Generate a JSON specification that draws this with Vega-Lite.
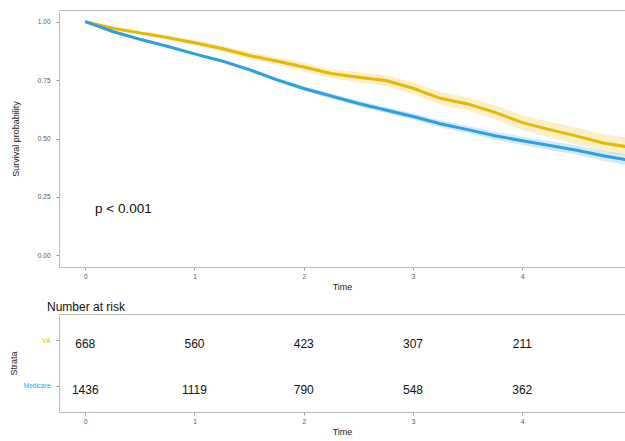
{
  "$schema": "https://vega.github.io/schema/vega-lite/v6.json",
  "padding": {"left": 9, "top": 10, "right": 0, "bottom": 0},
  "background": "white",
  "config": {
    "view": {"stroke": null},
    "font": "Liberation Sans",
    "axis": {
      "grid": false,
      "domainColor": "#c4bcbc",
      "domainWidth": 1,
      "tickColor": "#999999",
      "tickSize": 3,
      "labelColor": "#555555",
      "labelFontSize": 6.5,
      "titleFontSize": 9,
      "titleFontWeight": "normal",
      "titleColor": "#222222",
      "labelFont": "Liberation Sans",
      "titleFont": "Liberation Sans"
    },
    "axisX": {"labelPadding": 3},
    "axisY": {"labelPadding": 6}
  },
  "datasets": {
    "surv": [
      {"time": 0, "group": "VA", "surv": 1.0, "lo": 0.996, "hi": 1.0},
      {"time": 0.25, "group": "VA", "surv": 0.972, "lo": 0.966, "hi": 0.978},
      {"time": 0.5, "group": "VA", "surv": 0.952, "lo": 0.945, "hi": 0.96},
      {"time": 0.75, "group": "VA", "surv": 0.932, "lo": 0.923, "hi": 0.941},
      {"time": 1.0, "group": "VA", "surv": 0.91, "lo": 0.899, "hi": 0.921},
      {"time": 1.25, "group": "VA", "surv": 0.885, "lo": 0.872, "hi": 0.898},
      {"time": 1.5, "group": "VA", "surv": 0.855, "lo": 0.841, "hi": 0.87},
      {"time": 1.75, "group": "VA", "surv": 0.832, "lo": 0.816, "hi": 0.848},
      {"time": 2.0, "group": "VA", "surv": 0.806, "lo": 0.788, "hi": 0.824},
      {"time": 2.25, "group": "VA", "surv": 0.778, "lo": 0.758, "hi": 0.798},
      {"time": 2.5, "group": "VA", "surv": 0.762, "lo": 0.741, "hi": 0.784},
      {"time": 2.75, "group": "VA", "surv": 0.748, "lo": 0.725, "hi": 0.771},
      {"time": 3.0, "group": "VA", "surv": 0.715, "lo": 0.69, "hi": 0.74},
      {"time": 3.25, "group": "VA", "surv": 0.672, "lo": 0.645, "hi": 0.699},
      {"time": 3.5, "group": "VA", "surv": 0.648, "lo": 0.62, "hi": 0.677},
      {"time": 3.75, "group": "VA", "surv": 0.612, "lo": 0.582, "hi": 0.642},
      {"time": 4.0, "group": "VA", "surv": 0.568, "lo": 0.536, "hi": 0.6},
      {"time": 4.25, "group": "VA", "surv": 0.538, "lo": 0.504, "hi": 0.572},
      {"time": 4.5, "group": "VA", "surv": 0.51, "lo": 0.475, "hi": 0.546},
      {"time": 4.75, "group": "VA", "surv": 0.48, "lo": 0.443, "hi": 0.517},
      {"time": 5.0, "group": "VA", "surv": 0.462, "lo": 0.423, "hi": 0.501},
      {"time": 0, "group": "Medicare", "surv": 1.0, "lo": 0.998, "hi": 1.0},
      {"time": 0.25, "group": "Medicare", "surv": 0.958, "lo": 0.955, "hi": 0.961},
      {"time": 0.5, "group": "Medicare", "surv": 0.925, "lo": 0.921, "hi": 0.929},
      {"time": 0.75, "group": "Medicare", "surv": 0.895, "lo": 0.89, "hi": 0.9},
      {"time": 1.0, "group": "Medicare", "surv": 0.862, "lo": 0.856, "hi": 0.868},
      {"time": 1.25, "group": "Medicare", "surv": 0.832, "lo": 0.825, "hi": 0.839},
      {"time": 1.5, "group": "Medicare", "surv": 0.795, "lo": 0.787, "hi": 0.803},
      {"time": 1.75, "group": "Medicare", "surv": 0.752, "lo": 0.743, "hi": 0.761},
      {"time": 2.0, "group": "Medicare", "surv": 0.714, "lo": 0.704, "hi": 0.724},
      {"time": 2.25, "group": "Medicare", "surv": 0.682, "lo": 0.671, "hi": 0.693},
      {"time": 2.5, "group": "Medicare", "surv": 0.65, "lo": 0.638, "hi": 0.662},
      {"time": 2.75, "group": "Medicare", "surv": 0.622, "lo": 0.609, "hi": 0.635},
      {"time": 3.0, "group": "Medicare", "surv": 0.594, "lo": 0.58, "hi": 0.608},
      {"time": 3.25, "group": "Medicare", "surv": 0.563, "lo": 0.548, "hi": 0.578},
      {"time": 3.5, "group": "Medicare", "surv": 0.538, "lo": 0.522, "hi": 0.554},
      {"time": 3.75, "group": "Medicare", "surv": 0.512, "lo": 0.495, "hi": 0.529},
      {"time": 4.0, "group": "Medicare", "surv": 0.49, "lo": 0.472, "hi": 0.508},
      {"time": 4.25, "group": "Medicare", "surv": 0.47, "lo": 0.451, "hi": 0.489},
      {"time": 4.5, "group": "Medicare", "surv": 0.45, "lo": 0.43, "hi": 0.47},
      {"time": 4.75, "group": "Medicare", "surv": 0.425, "lo": 0.404, "hi": 0.446},
      {"time": 5.0, "group": "Medicare", "surv": 0.405, "lo": 0.383, "hi": 0.427}
    ],
    "risk": [
      {"time": 0, "group": "VA", "n": 668},
      {"time": 1, "group": "VA", "n": 560},
      {"time": 2, "group": "VA", "n": 423},
      {"time": 3, "group": "VA", "n": 307},
      {"time": 4, "group": "VA", "n": 211},
      {"time": 0, "group": "Medicare", "n": 1436},
      {"time": 1, "group": "Medicare", "n": 1119},
      {"time": 2, "group": "Medicare", "n": 790},
      {"time": 3, "group": "Medicare", "n": 548},
      {"time": 4, "group": "Medicare", "n": 362}
    ],
    "note": [
      {"time": 0.09, "surv": 0.2, "label": "p < 0.001"}
    ]
  },
  "vconcat": [
    {
      "width": 566,
      "height": 257,
      "layer": [
        {
          "data": {"name": "surv"},
          "mark": {"type": "area", "opacity": 0.22, "clip": true},
          "encoding": {
            "x": {"field": "time", "type": "quantitative", "scale": {"domain": [-0.24, 4.94], "nice": false, "zero": false},
                  "axis": {"orient": "bottom", "values": [0, 1, 2, 3, 4], "title": "Time", "titlePadding": 3}},
            "y": {"field": "lo", "type": "quantitative", "scale": {"domain": [-0.05, 1.05], "nice": false},
                  "axis": {"values": [0, 0.25, 0.5, 0.75, 1], "format": ".2f", "title": "Survival probability", "titlePadding": 17}},
            "y2": {"field": "hi"},
            "color": {"field": "group", "type": "nominal", "scale": {"domain": ["VA", "Medicare"], "range": ["#E7B800", "#2E9FDF"]}, "legend": null}
          }
        },
        {
          "data": {"name": "surv"},
          "mark": {"type": "line", "strokeWidth": 3, "clip": true},
          "encoding": {
            "x": {"field": "time", "type": "quantitative",
                  "axis": {"orient": "top", "labels": false, "ticks": false, "title": null}},
            "y": {"field": "surv", "type": "quantitative",
                  "axis": {"values": [0, 0.25, 0.5, 0.75, 1], "format": ".2f", "title": "Survival probability", "titlePadding": 17}},
            "color": {"field": "group", "type": "nominal", "legend": null}
          }
        },
        {
          "data": {"name": "note"},
          "mark": {"type": "text", "align": "left", "baseline": "middle", "fontSize": 13.5, "color": "#111111"},
          "encoding": {
            "x": {"field": "time", "type": "quantitative", "axis": null},
            "y": {"field": "surv", "type": "quantitative"},
            "text": {"field": "label", "type": "nominal"}
          }
        }
      ],
      "resolve": {"axis": {"x": "independent"}}
    },
    {
      "width": 566,
      "height": 98,
      "title": {"text": "Number at risk", "anchor": "start", "frame": "group", "fontSize": 12, "fontWeight": "normal", "color": "#111111", "offset": 0, "dx": -12, "font": "Liberation Sans"},
      "data": {"name": "risk"},
      "layer": [
        {
          "mark": {"type": "text", "fontSize": 12, "color": "#111111", "baseline": "middle", "dy": 4},
          "encoding": {
            "x": {"field": "time", "type": "quantitative", "scale": {"domain": [-0.24, 4.94], "nice": false, "zero": false},
                  "axis": {"orient": "bottom", "values": [0, 1, 2, 3, 4], "title": "Time", "titlePadding": 3}},
            "y": {"field": "group", "type": "nominal", "scale": {"type": "point", "domain": ["VA", "Medicare"], "padding": 0.58},
                  "axis": {"title": "Strata", "titlePadding": 5,
                           "labelColor": {"condition": {"test": "datum.value === 'VA'", "value": "#E7B800"}, "value": "#2E9FDF"}}},
            "text": {"field": "n", "type": "quantitative"}
          }
        },
        {
          "mark": {"type": "text", "opacity": 0},
          "encoding": {
            "x": {"field": "time", "type": "quantitative",
                  "axis": {"orient": "top", "labels": false, "ticks": false, "title": null}},
            "y": {"field": "group", "type": "nominal"},
            "text": {"field": "n", "type": "quantitative"}
          }
        }
      ],
      "resolve": {"axis": {"x": "independent"}}
    }
  ],
  "spacing": 9
}
